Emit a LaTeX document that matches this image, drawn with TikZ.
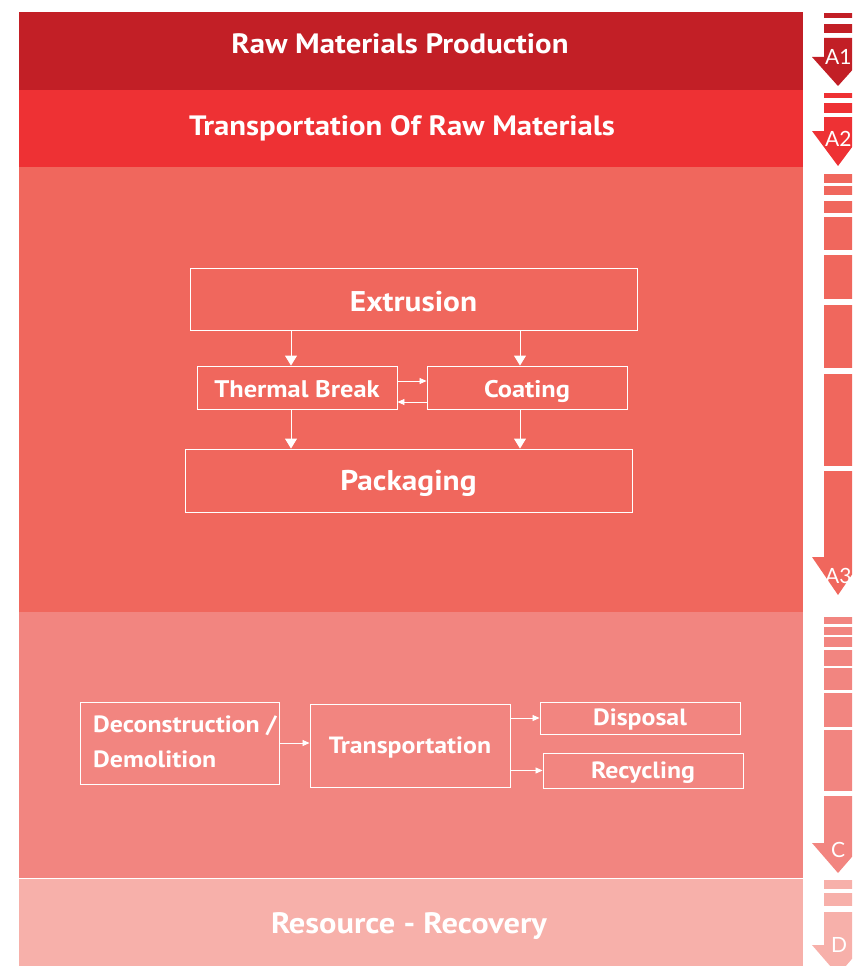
\documentclass[tikz,border=0pt]{standalone}
\usepackage{fontspec}
\setmainfont{PT Sans}[FakeStretch=1.1]
\newfontfamily\lblfont{Lato}
\usetikzlibrary{arrows.meta,calc}
\definecolor{cA}{HTML}{C21F26}
\definecolor{cB}{HTML}{EE3134}
\definecolor{cC}{HTML}{F0675D}
\definecolor{cD}{HTML}{F28580}
\definecolor{cE}{HTML}{F7B0AA}
\tikzset{
  title/.style={text=white, font=\bfseries\fontsize{28}{30}\selectfont, anchor=base, inner sep=0pt},
  box/.style={draw=white, line width=0.9pt, inner sep=0pt, text=white, text depth=0pt},
  bigbox/.style={box, font=\bfseries\fontsize{28.5}{30}\selectfont},
  midbox/.style={box, text height=19pt, font=\bfseries\fontsize{24}{26}\selectfont},
  smallbox/.style={box, text height=15pt, font=\bfseries\fontsize{23.5}{25}\selectfont},
  arr/.style={draw=white, line width=0.9pt, -{Triangle[width=12pt,length=10pt]}},
  sarr/.style={draw=white, line width=0.8pt, -{Triangle[width=6pt,length=7pt]}},
  lbl/.style={text=white, font=\lblfont\fontsize{21}{23}\selectfont, inner sep=0pt, anchor=base west},
}
\begin{document}
\begin{tikzpicture}[x=1pt,y=-1pt]
\useasboundingbox (0,0) rectangle (852,966);
% bands
\fill[cA] (19,12) rectangle (803,90);
\fill[cB] (19,90) rectangle (803,167);
\fill[cC] (19,167) rectangle (803,612);
\fill[cD] (19,612) rectangle (803,878);
\fill[cE] (19,879) rectangle (803,966);
\node[title] (t1) at (400,53) {Raw Materials Production};
\node[title] (t2) at (402,135) {Transportation Of Raw Materials};
\node[title, font=\bfseries\fontsize{29.5}{31}\selectfont] (t5) at (409,933) {Resource - Recovery};
% production process
\node[bigbox, text height=25pt, minimum width=447pt, minimum height=62pt] (ext) at (413.5,299) {Extrusion};
\node[midbox, minimum width=200pt, minimum height=43pt] (tb) at (297,387.5) {Thermal Break};
\node[midbox, minimum width=200pt, minimum height=43pt] (co) at (527,387.5) {Coating};
\node[bigbox, text height=19pt, minimum width=447pt, minimum height=63pt] (pk) at (408.5,480.5) {Packaging};
\draw[arr] ([xshift=-6pt]tb.north |- ext.south) -- ([xshift=-6pt]tb.north);
\draw[arr] ([xshift=-7pt]co.north |- ext.south) -- ([xshift=-7pt]co.north);
\draw[arr] ([xshift=-6pt]tb.south) -- ([xshift=-6pt]tb.south |- pk.north);
\draw[arr] ([xshift=-7pt]co.south) -- ([xshift=-7pt]co.south |- pk.north);
\draw[sarr] ([yshift=6.5pt]tb.east) -- ([yshift=6.5pt]tb.east -| co.west);
\draw[sarr] ([yshift=-14.5pt]co.west) -- ([yshift=-14.5pt]co.west -| tb.east);
% end of life
\node[box, minimum width=199pt, minimum height=82pt] (dc) at (179.5,743) {};
\node[text=white, inner sep=0pt, anchor=base west, align=left, font=\bfseries\fontsize{23.5}{35}\selectfont] (dct) at (93,767) {Deconstruction /\\Demolition};
\node[smallbox, minimum width=200pt, minimum height=83pt] (tr) at (410,745.5) {Transportation};
\node[smallbox, text height=14pt, minimum width=200pt, minimum height=32pt] (ds) at (640,718) {Disposal};
\node[smallbox, minimum width=200pt, minimum height=35pt] (rc) at (643,770.5) {Recycling};
\draw[sarr] (dc.east) -- (dc.east -| tr.west);
\draw[sarr] (ds.west -| tr.east) -- (ds.west);
\draw[sarr] (rc.west -| tr.east) -- (rc.west);
% side column
\begin{scope}
\clip (803,0) rectangle (852,966);
\foreach \a/\b in {13/18,24/33} \fill[cA] (824,\a) rectangle (860,\b);
\fill[cA] (824,38) -- (824,57) -- (812,57) -- (838,86) -- (864,57) -- (852,57) -- (852,38) -- cycle;
\foreach \a/\b in {93/98,103/113} \fill[cB] (824,\a) rectangle (860,\b);
\fill[cB] (824,117) -- (824,131) -- (812,131) -- (838,166) -- (864,131) -- (852,131) -- (852,117) -- cycle;
\foreach \a/\b in {174/183,186/195,201/213,217/250,255/299,305/368,374/466} \fill[cC] (824,\a) rectangle (860,\b);
\fill[cC] (824,471) -- (824,557) -- (812,557) -- (838,595) -- (864,557) -- (852,557) -- (852,471) -- cycle;
\foreach \a/\b in {617/624,627/635,637/647,650/666,668/690,693/727,730/791} \fill[cD] (824,\a) rectangle (860,\b);
\fill[cD] (824,796) -- (824,843) -- (812,843) -- (838,873) -- (864,843) -- (852,843) -- (852,796) -- cycle;
\foreach \a/\b in {880/889,893/906} \fill[cE] (824,\a) rectangle (860,\b);
\fill[cE] (824,912) -- (824,945) -- (812,945) -- (838,975) -- (864,945) -- (852,945) -- (852,912) -- cycle;
\end{scope}
\node[lbl] (la1) at (825,65) {A1};
\node[lbl] (la2) at (825,146) {A2};
\node[lbl] (la3) at (825,583) {A3};
\node[lbl] (lc) at (831,857) {C};
\node[lbl] (ld) at (831,952) {D};
\end{tikzpicture}
\end{document}
